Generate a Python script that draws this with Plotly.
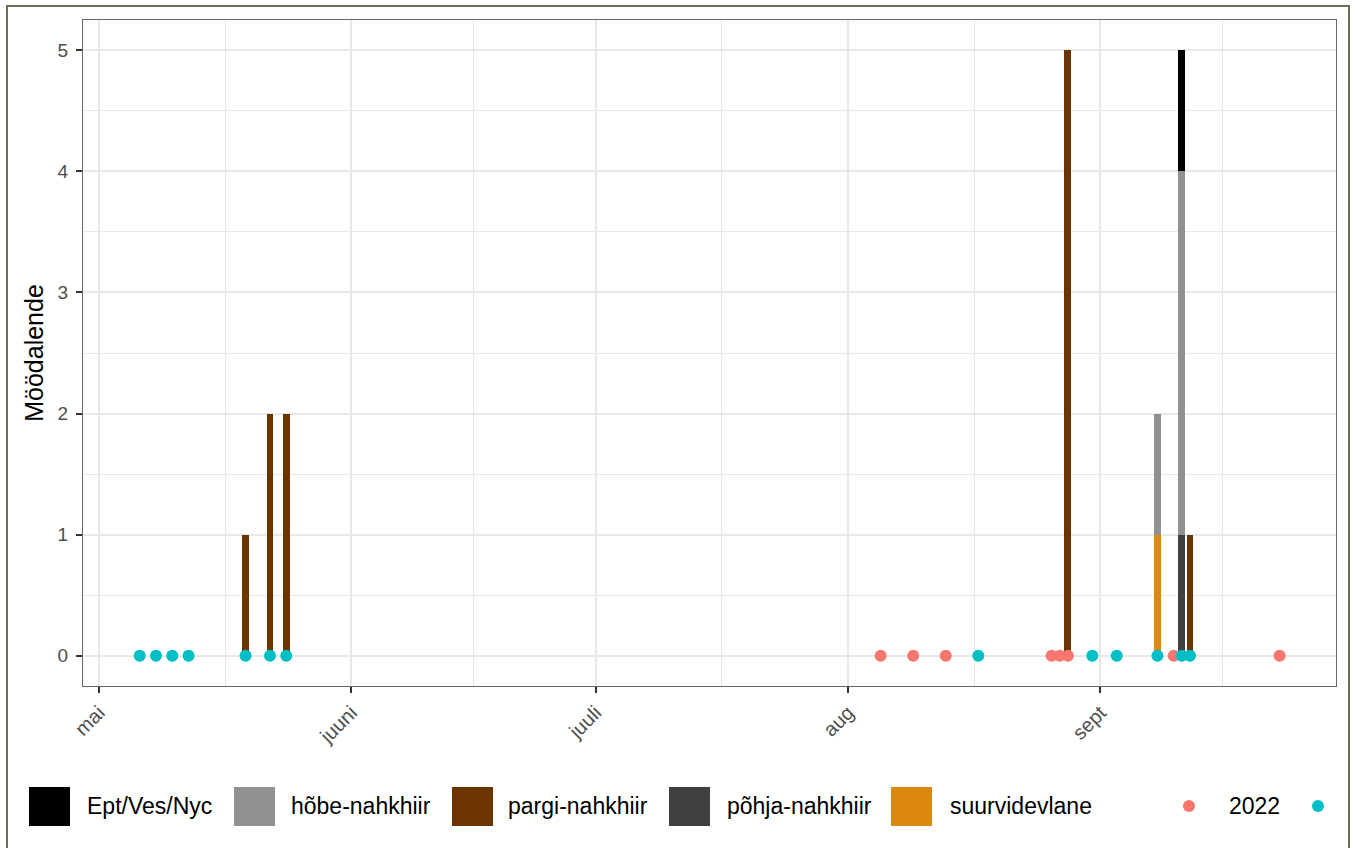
import plotly.graph_objects as go

# ---------------- data ----------------
YEAR = "2022"

month_ticks = ["05-01", "06-01", "07-01", "08-01", "09-01"]
month_labels = ["mai", "juuni", "juuli", "aug", "sept"]
minor_ticks = ["05-16 12:00", "06-16", "07-16 12:00", "08-16 12:00", "09-16"]

bar_dates = ["05-19", "05-22", "05-24", "08-28", "09-08", "09-11", "09-12"]
species = ["Ept/Ves/Nyc", "hõbe-nahkhiir", "pargi-nahkhiir", "põhja-nahkhiir", "suurvidevlane"]
species_colors = ["#000000", "#919191", "#6B3400", "#404040", "#DD8810"]
counts_ept = [0, 0, 0, 0, 0, 1, 0]
counts_hobe = [0, 0, 0, 0, 1, 3, 0]
counts_pargi = [1, 2, 2, 5, 0, 0, 1]
counts_pohja = [0, 0, 0, 0, 0, 1, 0]
counts_suur = [0, 0, 0, 0, 1, 0, 0]

series_names = ["2022", "2023"]
series_colors = ["#F8766D", "#00BFC4"]
dates_a = ["08-05", "08-09", "08-13", "08-26", "08-27", "08-28", "09-10", "09-23"]
dates_b = ["05-06", "05-08", "05-10", "05-12", "05-19", "05-22", "05-24",
           "08-17", "08-31", "09-03", "09-08", "09-11", "09-12"]

y_ticks = [0, 1, 2, 3, 4, 5]
y_title = "Möödalende"


def d(s):
    return f"{YEAR}-{s}"


FONT = "Liberation Sans, Arial, Helvetica, sans-serif"
W, H = 1355, 848
L, R, T, B = 83, 19, 20, 162
PW, PH = W - L - R, H - T - B


def px2x(px):
    return (px - L) / PW


def px2y(py):
    return (H - B - py) / PH


fig = go.Figure()

counts_by_species = [counts_ept, counts_hobe, counts_pargi, counts_pohja, counts_suur]
DAY_MS = 86400000
# stacking: first trace at bottom -> reverse the species order
for name, color, counts in reversed(list(zip(species, species_colors, counts_by_species))):
    fig.add_trace(go.Bar(
        x=[d(s) for s in bar_dates], y=counts, name=name,
        marker=dict(color=color, line=dict(width=0)),
        width=0.85 * DAY_MS, showlegend=False,
    ))

for name, color, dates in zip(series_names, series_colors, [dates_a, dates_b]):
    fig.add_trace(go.Scatter(
        x=[d(s) for s in dates], y=[0] * len(dates), mode="markers", name=name,
        marker=dict(color=color, size=12, line=dict(width=0)), showlegend=False,
    ))

grid = "#E8E8E8"
ytickfont = dict(family=FONT, size=19, color="#4D4D4D")
xtickfont = dict(family=FONT, size=20, color="#4D4D4D")

fig.update_layout(
    width=W, height=H, autosize=False,
    margin=dict(l=L, r=R, t=T, b=B),
    paper_bgcolor="white", plot_bgcolor="white",
    barmode="stack", bargap=0,
    font=dict(family=FONT),
    showlegend=False,
    xaxis=dict(
        type="date",
        range=[d("04-29 00:48"), d("09-29 22:20")],
        tickmode="array", tickvals=[d(s) for s in month_ticks], ticktext=month_labels,
        tickangle=-45, tickfont=xtickfont,
        ticks="outside", ticklen=6, tickwidth=1.6, tickcolor="#333333",
        showgrid=True, gridcolor=grid, gridwidth=1.6,
        minor=dict(tickmode="array", tickvals=[d(s) for s in minor_ticks],
                   showgrid=True, gridcolor=grid, gridwidth=0.9, ticks=""),
        showline=True, linecolor="#666666", linewidth=1.3, mirror=True,
        zeroline=False,
    ),
    yaxis=dict(
        range=[-0.25, 5.25],
        tickmode="array", tickvals=y_ticks, ticktext=[str(v) for v in y_ticks],
        tickfont=ytickfont, ticklabelstandoff=4,
        ticks="outside", ticklen=6, tickwidth=1.6, tickcolor="#333333",
        showgrid=True, gridcolor=grid, gridwidth=1.6,
        minor=dict(tickmode="array", tickvals=[v + 0.5 for v in y_ticks[:-1]],
                   showgrid=True, gridcolor=grid, gridwidth=0.9, ticks=""),
        showline=True, linecolor="#666666", linewidth=1.3, mirror=True,
        zeroline=False,
        title=dict(text=y_title, font=dict(family=FONT, size=25, color="black"), standoff=6),
    ),
)

shapes = []
annotations = []

# outer border
shapes.append(dict(type="rect", xref="paper", yref="paper",
                   x0=px2x(7), x1=px2x(1349), y0=px2y(6), y1=px2y(900),
                   line=dict(color="#6E6E58", width=2), fillcolor="rgba(0,0,0,0)", layer="above"))

# manual legend: species keys
key_x = [29, 234, 452, 669, 891]
text_x = [87, 291, 508, 727, 950]
ky0, ky1, ty = 787, 826, 806
for name, color, kx, tx in zip(species, species_colors, key_x, text_x):
    shapes.append(dict(type="rect", xref="paper", yref="paper",
                       x0=px2x(kx), x1=px2x(kx + 41), y0=px2y(ky1), y1=px2y(ky0),
                       line=dict(width=0), fillcolor=color))
    annotations.append(dict(xref="paper", yref="paper", x=px2x(tx - 2), y=px2y(ty),
                            xanchor="left", yanchor="middle", showarrow=False, text=name,
                            font=dict(family=FONT, size=23, color="black")))

# manual legend: year dots
dot_x = [1189, 1318]
dot_text_x = [1229]
for i, (name, color, cx) in enumerate(zip(series_names, series_colors, dot_x)):
    r = 6
    shapes.append(dict(type="circle", xref="paper", yref="paper",
                       x0=px2x(cx - r), x1=px2x(cx + r), y0=px2y(ty + r), y1=px2y(ty - r),
                       line=dict(width=0), fillcolor=color))
    if i < len(dot_text_x):
        annotations.append(dict(xref="paper", yref="paper", x=px2x(dot_text_x[i] - 2), y=px2y(ty),
                                xanchor="left", yanchor="middle", showarrow=False, text=name,
                                font=dict(family=FONT, size=23, color="black")))

fig.update_layout(shapes=shapes, annotations=annotations)

fig.write_html("out.html", config={"displayModeBar": False},
               post_script="document.body.style.margin='0';document.body.style.overflow='hidden';")
